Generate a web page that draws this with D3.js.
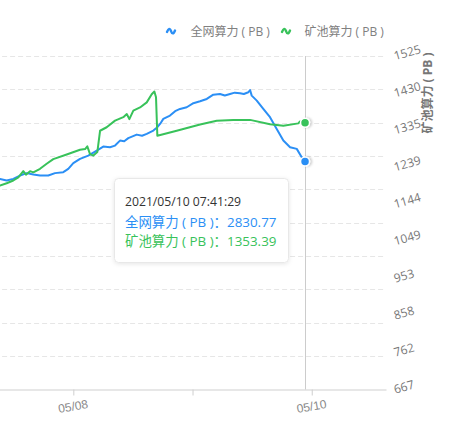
<!DOCTYPE html>
<html><head><meta charset="utf-8">
<script src="https://cdn.jsdelivr.net/npm/d3@7"></script>
<style>
html,body{margin:0;padding:0;background:#fff;overflow:hidden;}
svg{display:block;font-family:"Open Sans","Noto Sans CJK SC",sans-serif;}
</style></head>
<body><svg id="c" width="463" height="433"></svg>
<script>
// ---- data ----
const seriesNames = ["全网算力 ( PB )", "矿池算力 ( PB )"];
const networkTimes = ["2021-05-07 08:00","2021-05-07 09:14","2021-05-07 10:35","2021-05-07 11:55","2021-05-07 13:16","2021-05-07 14:37","2021-05-07 15:57","2021-05-07 17:18","2021-05-07 18:58","2021-05-07 20:19","2021-05-07 21:59","2021-05-07 22:59","2021-05-08 00:00","2021-05-08 01:21","2021-05-08 03:01","2021-05-08 04:43","2021-05-08 06:02","2021-05-08 07:23","2021-05-08 08:24","2021-05-08 09:24","2021-05-08 10:15","2021-05-08 11:04","2021-05-08 12:46","2021-05-08 13:50","2021-05-08 14:47","2021-05-08 16:07","2021-05-08 16:55","2021-05-08 17:30","2021-05-08 18:07","2021-05-08 19:28","2021-05-08 20:30","2021-05-08 21:29","2021-05-08 22:50","2021-05-09 00:10","2021-05-09 01:31","2021-05-09 02:52","2021-05-09 04:11","2021-05-09 05:32","2021-05-09 06:30","2021-05-09 07:33","2021-05-09 08:30","2021-05-09 09:34","2021-05-09 10:20","2021-05-09 11:14","2021-05-09 11:35","2021-05-09 11:55","2021-05-09 12:56","2021-05-09 14:15","2021-05-09 15:36","2021-05-09 16:57","2021-05-09 18:17","2021-05-09 19:38","2021-05-09 20:59","2021-05-09 21:59","2021-05-09 22:39"];
const networkValues = [2600,2615,2594,2615,2656,2686,2669,2656,2656,2686,2698,2739,2810,2863,2904,2966,3016,3008,3028,3090,3082,3120,3164,3150,3173,3214,3256,3300,3359,3400,3455,3483,3504,3554,3578,3607,3660,3669,3650,3669,3685,3678,3668,3690,3718,3648,3586,3483,3380,3235,3090,3008,2987,2884,2830.77];
const poolTimes = ["2021-05-07 08:00","2021-05-07 09:14","2021-05-07 10:35","2021-05-07 11:55","2021-05-07 12:56","2021-05-07 13:56","2021-05-07 14:28","2021-05-07 15:17","2021-05-07 15:57","2021-05-07 17:18","2021-05-07 18:38","2021-05-07 19:58","2021-05-07 22:40","2021-05-08 01:21","2021-05-08 02:22","2021-05-08 02:49","2021-05-08 03:22","2021-05-08 04:02","2021-05-08 04:50","2021-05-08 05:23","2021-05-08 06:43","2021-05-08 08:24","2021-05-08 10:04","2021-05-08 10:46","2021-05-08 11:17","2021-05-08 12:05","2021-05-08 13:26","2021-05-08 14:47","2021-05-08 15:47","2021-05-08 16:19","2021-05-08 16:39","2021-05-08 16:55","2021-05-08 20:49","2021-05-09 01:31","2021-05-09 04:52","2021-05-09 08:13","2021-05-09 11:35","2021-05-09 15:36","2021-05-09 18:17","2021-05-09 21:18","2021-05-09 21:38","2021-05-09 22:39"];
const poolValues = [1185,1192,1198,1205,1213,1229,1220,1229,1226,1235,1248,1260,1272,1284,1286,1293,1273,1269,1278,1333,1342,1359,1368,1376,1363,1385,1393,1406,1427,1434,1419,1320,1333,1349,1359,1361,1361,1350,1346,1352,1357,1353.39];
const leftTicks = [0,414,828,1242,1656,2070,2484,2898,3312,3726,4140];
const rightTicks = [667,762.38,857.76,953.14,1048.52,1143.9,1239.28,1334.66,1430.04,1525.42];
const xDomain = ["2021-05-07 00:00","2021-05-10 14:57"];
const xTickDays = ["2021-05-08 00:00","2021-05-09 00:00","2021-05-10 00:00"];
const xLabelDays = ["05/08","05/10"];
const tooltipTime = "2021/05/10 07:41:29";
const rightAxisName = "矿池算力 ( PB )";

// ---- setup ----
const colors = ["#2b8ff5","#38c25a"];
const parse = d3.timeParse("%Y-%m-%d %H:%M");
const svg = d3.select("#c");
const plot = {left:-45.9, right:386, top:56, bottom:389.5};

const x = d3.scaleTime().domain(xDomain.map(parse)).range([plot.left, plot.right]);
const yL = d3.scaleLinear().domain([leftTicks[0], leftTicks[leftTicks.length-1]]).range([plot.bottom, plot.top]);
const yR = d3.scaleLinear().domain([rightTicks[0], rightTicks[rightTicks.length-1]]).range([plot.bottom, plot.top]);

const defs = svg.append("defs");
const f = defs.append("filter").attr("id","sh").attr("x","-50%").attr("y","-50%").attr("width","200%").attr("height","200%");
f.append("feDropShadow").attr("dx",0).attr("dy",1).attr("stdDeviation",2).attr("flood-color","#000").attr("flood-opacity",0.10);
const f2 = defs.append("filter").attr("id","dsh").attr("x","-100%").attr("y","-100%").attr("width","300%").attr("height","300%");
f2.append("feDropShadow").attr("dx",2).attr("dy",0).attr("stdDeviation",1.2).attr("flood-color","#000").attr("flood-opacity",0.18);

// grid lines (from left axis ticks)
svg.append("g").selectAll("line").data(leftTicks.slice(1)).join("line")
  .attr("x1", plot.left).attr("x2", plot.right)
  .attr("y1", d => Math.round(yL(d))+0.5).attr("y2", d => Math.round(yL(d))+0.5)
  .attr("stroke","#e6e6e6").attr("stroke-dasharray","5,3");

// x axis
const xAxis = d3.axisBottom(x)
  .tickValues(xTickDays.map(parse))
  .tickSize(6).tickSizeOuter(0)
  .tickFormat(d => { const s = d3.timeFormat("%m/%d")(d); return xLabelDays.includes(s) ? s : ""; });
const gx = svg.append("g").attr("transform", `translate(0,${plot.bottom})`).call(xAxis);
gx.select(".domain").attr("stroke","#cfcfcf");
gx.selectAll(".tick line").attr("stroke","#cfcfcf");
gx.selectAll(".tick text").attr("fill","#888").attr("font-size",12)
  .attr("y",0).attr("dy",0).attr("text-anchor","middle")
  .attr("transform","translate(0,21) rotate(-10)");

// right axis labels
const rg = svg.append("g");
rg.selectAll("text").data(rightTicks).join("text")
  .attr("transform", d => `translate(394,${yR(d)}) rotate(-16)`)
  .attr("dominant-baseline","central")
  .attr("fill","#777").attr("font-size",12)
  .text(d => Math.round(d));
svg.append("text").attr("transform","translate(431.5,93) rotate(-90)")
  .attr("text-anchor","middle").attr("font-size",12).attr("font-weight","bold").attr("fill","#777")
  .text(rightAxisName);

// lines
const netData = networkTimes.map((t,i)=>({t:parse(t), v:networkValues[i]}));
const poolData = poolTimes.map((t,i)=>({t:parse(t), v:poolValues[i]}));
svg.append("path").datum(netData)
  .attr("d", d3.line().x(d=>x(d.t)).y(d=>yL(d.v)))
  .attr("fill","none").attr("stroke",colors[0]).attr("stroke-width",2).attr("stroke-linejoin","round");
svg.append("path").datum(poolData)
  .attr("d", d3.line().x(d=>x(d.t)).y(d=>yR(d.v)))
  .attr("fill","none").attr("stroke",colors[1]).attr("stroke-width",2).attr("stroke-linejoin","round");

// axis pointer
const lastNet = netData[netData.length-1], lastPool = poolData[poolData.length-1];
const px = Math.round(x(lastNet.t))+0.5;
svg.append("line").attr("x1",px).attr("x2",px).attr("y1",plot.top).attr("y2",plot.bottom)
  .attr("stroke","#cccccc").attr("stroke-width",1);
[[lastNet, yL, colors[0]],[lastPool, yR, colors[1]]].forEach(([d, sc, c]) => {
  svg.append("circle").attr("cx",x(d.t)).attr("cy",sc(d.v)).attr("r",4.5)
    .attr("fill",c).attr("stroke","#fff").attr("stroke-width",1.5).attr("filter","url(#dsh)");
});

// legend
const legendItems = [{x:167, tx:190.5},{x:282, tx:304.5}];
legendItems.forEach((it,i) => {
  svg.append("path").attr("d",`M${it.x},${32} c1.5,-4 3,-4 4,-1 s2.5,3.5 4,-0.5`)
    .attr("fill","none").attr("stroke",colors[i]).attr("stroke-width",2.4).attr("stroke-linecap","round");
  svg.append("text").attr("x",it.tx).attr("y",31).attr("dominant-baseline","central")
    .attr("font-size",12).attr("fill","#808080").text(seriesNames[i]);
});

// tooltip
const tt = svg.append("g").attr("transform","translate(114,178)");
tt.append("rect").attr("x",0.5).attr("y",0.5).attr("width",174).attr("height",84).attr("rx",4)
  .attr("fill","#fff").attr("stroke","#e8e8e8").attr("filter","url(#sh)");
tt.append("text").attr("x",11).attr("y",23.5).attr("dominant-baseline","central").attr("font-size",12.2).attr("fill","#333").text(tooltipTime);
tt.append("text").attr("x",11).attr("y",43.5).attr("dominant-baseline","central").attr("font-size",13.4).attr("fill",colors[0])
  .text(`${seriesNames[0]}：${d3.format(".2f")(lastNet.v)}`);
tt.append("text").attr("x",11).attr("y",62.5).attr("dominant-baseline","central").attr("font-size",13.4).attr("fill",colors[1])
  .text(`${seriesNames[1]}：${d3.format(".2f")(lastPool.v)}`);
</script></body></html>
